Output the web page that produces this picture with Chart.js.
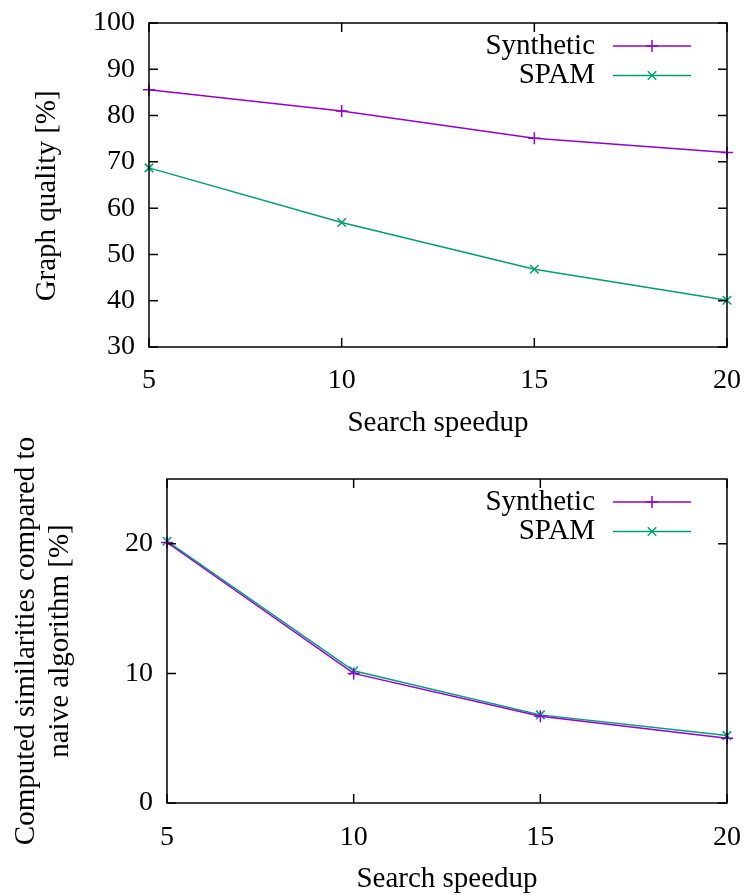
<!DOCTYPE html>
<html>
<head>
<meta charset="utf-8">
<script src="https://cdn.jsdelivr.net/npm/chart.js@4/dist/chart.umd.min.js"></script>
<style>
  html, body { margin: 0; padding: 0; background: #fff; }
  #wrap { position: relative; width: 744px; height: 895px; }
  canvas { position: absolute; left: 0; }
</style>
</head>
<body>
<div id="wrap">
  <canvas id="quality" width="744" height="447" style="top:0"></canvas>
  <canvas id="sims" width="744" height="465" style="top:430px"></canvas>
</div>
<script>
// data
const speedups = [5, 10, 15, 20];
const qualitySynthetic = [85.6, 81.0, 75.1, 72.0];
const qualitySpam = [68.7, 56.9, 46.8, 40.1];
const simsSynthetic = [20.1, 10.0, 6.7, 5.0];
const simsSpam = [20.2, 10.2, 6.8, 5.2];
const xTicks = [5, 10, 15, 20];
const qualityTicks = [30, 40, 50, 60, 70, 80, 90, 100];
const simsTicks = [0, 10, 20];
const seriesNames = ['Synthetic', 'SPAM'];

const PURPLE = '#9400d3';
const GREEN = '#009e73';
const FONT = '"Liberation Serif", serif';

Chart.defaults.font.family = FONT;
Chart.defaults.font.size = 28;
Chart.defaults.color = '#000';

// gnuplot style frame with inward ticks on all four sides
const framePlugin = {
  id: 'frame',
  afterDatasetsDraw(chart) {
    const ctx = chart.ctx;
    const a = chart.chartArea;
    const xs = chart.scales.x, ys = chart.scales.y;
    const len = 9;
    ctx.save();
    ctx.strokeStyle = '#000';
    ctx.lineWidth = 1.5;
    ctx.beginPath();
    xs.ticks.forEach(t => {
      const px = xs.getPixelForValue(t.value);
      ctx.moveTo(px, a.bottom); ctx.lineTo(px, a.bottom - len);
      ctx.moveTo(px, a.top); ctx.lineTo(px, a.top + len);
    });
    ys.ticks.forEach(t => {
      const py = ys.getPixelForValue(t.value);
      ctx.moveTo(a.left, py); ctx.lineTo(a.left + len, py);
      ctx.moveTo(a.right, py); ctx.lineTo(a.right - len, py);
    });
    ctx.stroke();
    ctx.strokeRect(a.left, a.top, a.right - a.left, a.bottom - a.top);
    ctx.restore();
  }
};

// key in the top right corner: text first, then line sample with marker
const keyPlugin = {
  id: 'key',
  afterDraw(chart) {
    const ctx = chart.ctx;
    const a = chart.chartArea;
    ctx.save();
    chart.data.datasets.forEach((ds, i) => {
      const y = a.top + 23 + i * 29.5;
      ctx.fillStyle = '#000';
      ctx.font = '29px ' + FONT;
      ctx.textAlign = 'right';
      ctx.textBaseline = 'middle';
      ctx.fillText(ds.label, a.right - 132, y);
      ctx.strokeStyle = ds.borderColor;
      ctx.lineWidth = 1.5;
      ctx.beginPath();
      ctx.moveTo(a.right - 114, y);
      ctx.lineTo(a.right - 36, y);
      ctx.stroke();
      Chart.helpers.drawPoint(ctx, {
        pointStyle: ds.pointStyle, radius: ds.pointRadius, rotation: 0, borderWidth: 1.5
      }, a.right - 75, y);
    });
    ctx.restore();
  }
};

function makeChart(id, synth, spam, yMin, yMax, yTicks, yTitle, box) {
  const ctx = document.getElementById(id).getContext('2d');
  return new Chart(ctx, {
    type: 'line',
    data: {
      datasets: [{
        label: seriesNames[0],
        data: speedups.map((s, i) => ({ x: s, y: synth[i] })),
        borderColor: PURPLE,
        backgroundColor: PURPLE,
        borderWidth: 1.5,
        pointStyle: 'cross',
        pointRadius: 6,
        pointBorderWidth: 1.5,
        clip: false
      }, {
        label: seriesNames[1],
        data: speedups.map((s, i) => ({ x: s, y: spam[i] })),
        borderColor: GREEN,
        backgroundColor: GREEN,
        borderWidth: 1.5,
        pointStyle: 'crossRot',
        pointRadius: 6,
        pointBorderWidth: 1.5,
        clip: false
      }]
    },
    options: {
      responsive: false,
      animation: false,
      devicePixelRatio: 1,
      layout: { padding: { top: box.top, right: 744 - box.right, left: 0, bottom: 0 } },
      plugins: { legend: { display: false }, tooltip: { enabled: false } },
      scales: {
        x: {
          type: 'linear',
          min: 5,
          max: 20,
          afterBuildTicks: s => { s.ticks = xTicks.map(v => ({ value: v })); },
          afterFit: s => {
            s.height = box.canvasH - box.bottom;
            s.paddingLeft = 0; s.paddingRight = 0;
          },
          grid: { display: false, drawTicks: false },
          border: { display: false },
          ticks: { padding: box.xTickPad, maxRotation: 0, color: '#000' },
          title: {
            display: true, text: 'Search speedup', color: '#000',
            font: { size: 29 },
            padding: { top: 0, bottom: box.xTitlePad }
          }
        },
        y: {
          type: 'linear',
          min: yMin,
          max: yMax,
          afterBuildTicks: s => { s.ticks = yTicks.map(v => ({ value: v })); },
          afterFit: s => {
            s.width = box.left;
            s.paddingTop = 0; s.paddingBottom = 0;
          },
          grid: { display: false, drawTicks: false },
          border: { display: false },
          ticks: { padding: 14, color: '#000' },
          title: {
            display: true, text: yTitle, color: '#000',
            font: { size: 29, lineHeight: 1.16 },
            padding: { top: box.yTitlePad, bottom: 0 }
          }
        }
      }
    },
    plugins: [framePlugin, keyPlugin]
  });
}

makeChart('quality', qualitySynthetic, qualitySpam, 30, 100, qualityTicks,
  'Graph quality [%]   ',
  { left: 149, right: 727, top: 23, bottom: 347, canvasH: 447, xTickPad: 17, xTitlePad: 6, yTitlePad: 31 });

makeChart('sims', simsSynthetic, simsSpam, 0, 25, simsTicks,
  ['Computed similarities compared to', 'naive algorithm [%]'],
  { left: 167, right: 727, top: 49, bottom: 373, canvasH: 465, xTickPad: 18, xTitlePad: -2, yTitlePad: 10 });
</script>
</body>
</html>
